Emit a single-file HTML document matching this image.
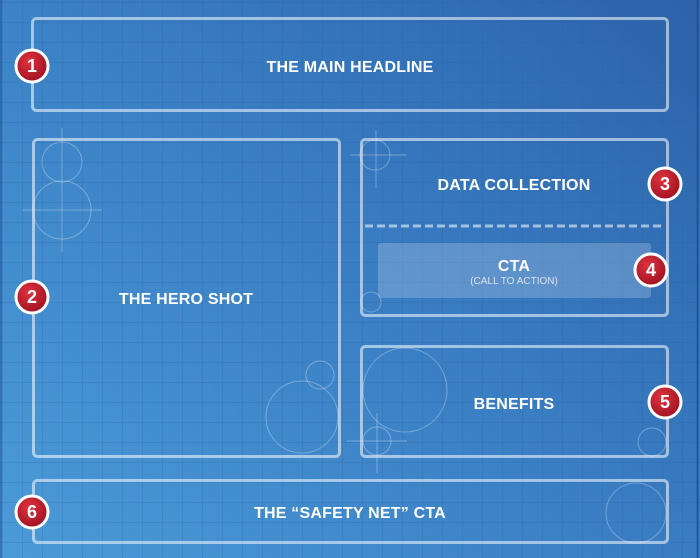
<!DOCTYPE html>
<html><head><meta charset="utf-8"><style>
html,body{margin:0;padding:0;}
body{width:700px;height:558px;overflow:hidden;background:linear-gradient(225deg,#2c62aa 0%,#3a7fc4 50%,#4b9bd8 100%);position:relative;font-family:"Liberation Sans",sans-serif;}
svg{position:absolute;left:0;top:0;}
</style></head><body>
<svg width="700" height="558" viewBox="0 0 700 558">
<defs>
<pattern id="g" x="2" y="2" width="20" height="20" patternUnits="userSpaceOnUse">
<path d="M0 0H20M0 0V20" stroke="#2a5fa0" stroke-opacity="0.45" stroke-width="1" fill="none"/>
</pattern>
<radialGradient id="r" cx="0.4" cy="0.35" r="0.7">
<stop offset="0" stop-color="#e0323e"/><stop offset="1" stop-color="#9c1020"/>
</radialGradient>
</defs>
<rect width="700" height="558" fill="url(#g)"/>
<line x1="697.5" y1="0" x2="697.5" y2="558" stroke="#1f4f8f" stroke-width="1.5"/>
<line x1="1" y1="0" x2="1" y2="558" stroke="#1f4f8f" stroke-width="1"/>
<g fill="none" stroke="#fff" stroke-opacity="0.3" stroke-width="1">
<circle cx="62" cy="162" r="20"/><circle cx="62" cy="210" r="29"/>
<line x1="62" y1="128" x2="62" y2="252"/><line x1="23" y1="210" x2="102" y2="210"/>
<circle cx="302" cy="417" r="36"/><circle cx="320" cy="375" r="14"/>
<circle cx="375" cy="155" r="15"/><line x1="376" y1="130" x2="376" y2="188"/><line x1="350" y1="155" x2="407" y2="155"/>
<circle cx="371" cy="302" r="10"/>
<circle cx="405" cy="390" r="42"/><circle cx="377" cy="441" r="14"/>
<line x1="377" y1="413" x2="377" y2="473"/><line x1="347" y1="441" x2="407" y2="441"/>
<circle cx="652" cy="442" r="14"/><circle cx="636" cy="513" r="30"/>
</g>
<g fill="none" stroke="#fff" stroke-opacity="0.55" stroke-width="3">
<rect x="32.5" y="18.5" width="635" height="92" rx="4"/>
<rect x="33.5" y="139.5" width="306" height="317" rx="4"/>
<rect x="361.5" y="139.5" width="306" height="176" rx="4"/>
<rect x="361.5" y="346.5" width="306" height="110" rx="4"/>
<rect x="33.5" y="480.5" width="634" height="62" rx="4"/>
<line x1="365" y1="226" x2="665" y2="226" stroke-dasharray="8 4"/>
</g>
<rect x="378" y="243" width="273" height="55" rx="3" fill="#fff" fill-opacity="0.2"/>
<g fill="#fff" font-weight="bold" font-size="16" text-anchor="middle" letter-spacing="0.2">
<text x="350" y="72">THE MAIN HEADLINE</text>
<text x="186" y="304">THE HERO SHOT</text>
<text x="514" y="190">DATA COLLECTION</text>
<text x="514" y="271">CTA</text>
<text x="514" y="409">BENEFITS</text>
<text x="350" y="518">THE “SAFETY NET” CTA</text>
</g>
<text x="514" y="284" fill="#fff" fill-opacity="0.75" font-size="10" text-anchor="middle">(CALL TO ACTION)</text>
<g stroke="#fff" stroke-width="3" fill="url(#r)">
<circle cx="32" cy="66" r="16"/><circle cx="32" cy="297" r="16"/>
<circle cx="665" cy="184" r="16"/><circle cx="651" cy="270" r="16"/>
<circle cx="665" cy="402" r="16"/><circle cx="32" cy="512" r="16"/>
</g>
<g fill="#fff" font-weight="bold" font-size="18" text-anchor="middle">
<text x="32" y="72">1</text><text x="32" y="303">2</text>
<text x="665" y="190">3</text><text x="651" y="276">4</text>
<text x="665" y="408">5</text><text x="32" y="518">6</text>
</g>
</svg>
</body></html>
